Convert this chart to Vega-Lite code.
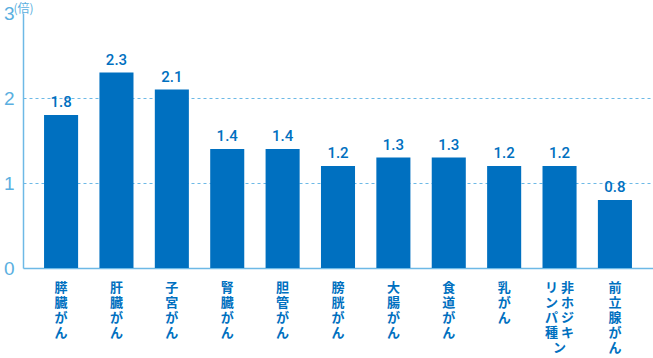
{
  "$schema": "https://vega.github.io/schema/vega-lite/v6.json",
  "width": 630,
  "height": 255,
  "autosize": {"type": "none"},
  "padding": {"left": 23, "top": 13, "right": 0, "bottom": 90},
  "background": "white",
  "data": {
    "values": [
      {"cancer": "膵臓がん", "ratio": 1.8},
      {"cancer": "肝臓がん", "ratio": 2.3},
      {"cancer": "子宮がん", "ratio": 2.1},
      {"cancer": "腎臓がん", "ratio": 1.4},
      {"cancer": "胆管がん", "ratio": 1.4},
      {"cancer": "膀胱がん", "ratio": 1.2},
      {"cancer": "大腸がん", "ratio": 1.3},
      {"cancer": "食道がん", "ratio": 1.3},
      {"cancer": "乳がん", "ratio": 1.2},
      {"cancer": "非ホジキンリンパ種", "ratio": 1.2},
      {"cancer": "前立腺がん", "ratio": 0.8}
    ]
  },
  "config": {
    "view": {"stroke": null}
  },
  "encoding": {
    "x": {
      "field": "cancer",
      "type": "nominal",
      "sort": null,
      "scale": {"paddingInner": 0.385, "paddingOuter": 0.38},
      "axis": {
        "title": null,
        "domainColor": "#6DB9E6",
        "domainWidth": 1.5,
        "ticks": false,
        "labelAngle": 0,
        "labelBaseline": "top",
        "labelAlign": "center",
        "labelPadding": 13,
        "labelFont": "Noto Sans CJK JP",
        "labelFontWeight": "bold",
        "labelFontSize": 13,
        "labelLineHeight": 15,
        "labelColor": "#0070C0",
        "labelExpr": "datum.label == '非ホジキンリンパ種' ? ['リ 非', 'ン ホ', 'パ ジ', '種 キ', '　 ン'] : split(datum.label, '')"
      }
    },
    "y": {
      "field": "ratio",
      "type": "quantitative",
      "scale": {"domain": [0, 3], "nice": false},
      "axis": {
        "values": [0, 1, 2, 3],
        "title": "(倍)",
        "titleAngle": 0,
        "titleAlign": "left",
        "titleBaseline": "middle",
        "titleX": -10,
        "titleY": -5,
        "titleFont": "Noto Sans CJK JP",
        "titleFontSize": 12,
        "titleFontWeight": "normal",
        "titleColor": "#5AAFE0",
        "domainColor": "#6DB9E6",
        "domainWidth": 1.5,
        "ticks": false,
        "labelPadding": 9,
        "labelFont": "Liberation Sans",
        "labelFontSize": 19,
        "labelColor": "#5AAFE0",
        "grid": true,
        "gridColor": "#6DB9E6",
        "gridDash": [3, 3],
        "gridWidth": 1,
        "gridOpacity": {"condition": {"test": "datum.value == 1 || datum.value == 2", "value": 1}, "value": 0}
      }
    }
  },
  "layer": [
    {
      "mark": {"type": "bar", "color": "#0070C0"}
    },
    {
      "mark": {
        "type": "text",
        "baseline": "bottom",
        "dy": -5,
        "font": "Roboto",
        "fontSize": 15,
        "fontWeight": 500,
        "color": "#0070C0"
      },
      "encoding": {
        "text": {"field": "ratio", "type": "quantitative", "format": ".1f"}
      }
    }
  ]
}
